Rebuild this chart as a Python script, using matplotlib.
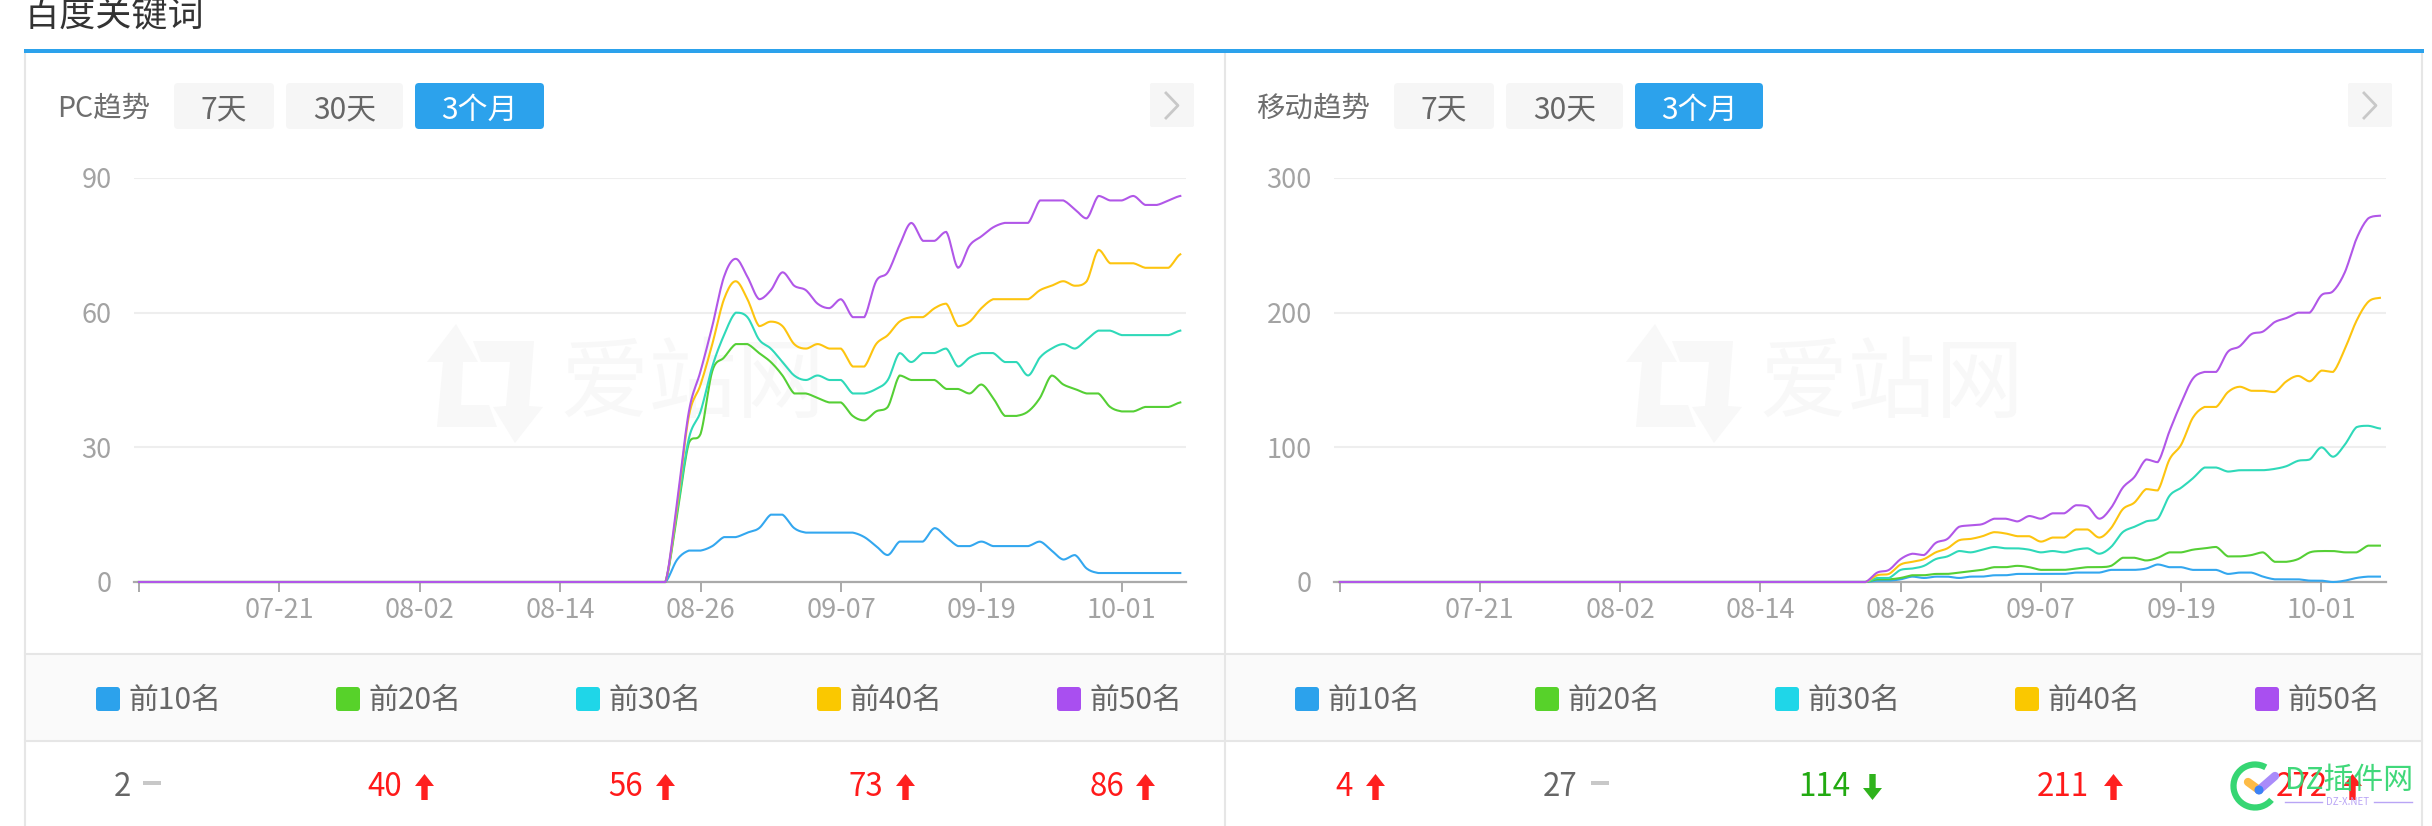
import numpy as np
import matplotlib
matplotlib.use("Agg")
import matplotlib.pyplot as plt
from matplotlib.patches import FancyBboxPatch, Polygon, Rectangle, Arc, Circle

plt.rcParams['font.family'] = ['Noto Sans CJK SC', 'DejaVu Sans']

W, H = 2432, 826

# ---------- data ----------
tick_days = [0, 12, 24, 36, 48, 60, 72, 84]
tick_labels = ["", "07-21", "08-02", "08-14", "08-26", "09-07", "09-19", "10-01"]
series_names = ["前10名", "前20名", "前30名", "前40名", "前50名"]
quiet_days = [0] * 46  # flat zero up to 08-23

pc_top10 = quiet_days + [5, 7, 7, 8, 10, 10, 11, 12, 15, 15, 12, 11, 11, 11, 11, 11, 10, 8, 6, 9, 9, 9,
                         12, 10, 8, 8, 9, 8, 8, 8, 8, 9, 7, 5, 6, 3, 2, 2, 2, 2, 2, 2, 2, 2]
pc_top20 = quiet_days + [15, 31, 33, 47, 50, 53, 53, 51, 49, 46, 42, 42, 41, 40, 40, 37, 36, 38, 39, 46, 45, 45,
                         45, 43, 43, 42, 44, 41, 37, 37, 38, 41, 46, 44, 43, 42, 42, 39, 38, 38, 39, 39, 39, 40]
pc_top30 = quiet_days + [16, 32, 38, 48, 55, 60, 59, 54, 52, 49, 46, 45, 46, 45, 45, 42, 42, 43, 45, 51, 49, 51,
                         51, 52, 48, 50, 51, 51, 49, 49, 46, 50, 52, 53, 52, 54, 56, 56, 55, 55, 55, 55, 55, 56]
pc_top40 = quiet_days + [17, 37, 44, 53, 63, 67, 63, 57, 58, 57, 53, 52, 53, 52, 52, 48, 48, 53, 55, 58, 59, 59,
                         61, 62, 57, 58, 61, 63, 63, 63, 63, 65, 66, 67, 66, 67, 74, 71, 71, 71, 70, 70, 70, 73]
pc_top50 = quiet_days + [18, 38, 47, 57, 68, 72, 68, 63, 65, 69, 66, 65, 62, 61, 63, 59, 59, 67, 69, 75, 80, 76,
                         76, 78, 70, 75, 77, 79, 80, 80, 80, 85, 85, 85, 83, 81, 86, 85, 85, 86, 84, 84, 85, 86]

mob_top10 = quiet_days + [1, 1, 2, 4, 3, 4, 4, 3, 4, 4, 5, 5, 6, 6, 6, 6, 6, 7, 7, 7, 9, 9,
                          9, 10, 13, 11, 11, 9, 9, 9, 6, 7, 7, 4, 2, 2, 2, 1, 1, 0, 1, 3, 4, 4]
mob_top20 = quiet_days + [2, 2, 3, 5, 5, 6, 6, 7, 8, 9, 11, 11, 12, 11, 9, 9, 9, 10, 11, 11, 12, 18,
                          18, 16, 18, 22, 22, 24, 25, 26, 19, 19, 20, 22, 15, 15, 17, 22, 23, 23, 22, 22, 27, 27]
mob_top30 = quiet_days + [3, 3, 9, 10, 12, 17, 19, 23, 22, 24, 26, 25, 25, 24, 22, 23, 22, 24, 25, 21, 26, 37,
                          41, 45, 47, 64, 70, 77, 85, 85, 82, 83, 83, 83, 84, 86, 90, 91, 100, 93, 102, 115, 116, 114]
mob_top40 = quiet_days + [5, 6, 13, 15, 17, 22, 25, 31, 32, 34, 37, 36, 34, 34, 30, 33, 33, 39, 39, 33, 40, 54,
                          59, 69, 68, 91, 102, 122, 130, 130, 141, 145, 142, 142, 141, 149, 153, 149, 157, 156, 173, 194, 208, 211]
mob_top50 = quiet_days + [7, 9, 17, 21, 20, 29, 32, 41, 42, 43, 47, 47, 45, 49, 47, 51, 51, 57, 56, 47, 55, 70,
                          78, 91, 89, 112, 133, 151, 156, 156, 171, 175, 184, 186, 193, 196, 200, 200, 213, 216, 230, 255, 270, 272]

pc_series = [pc_top10, pc_top20, pc_top30, pc_top40, pc_top50]
mob_series = [mob_top10, mob_top20, mob_top30, mob_top40, mob_top50]
pc_yticks = [0, 30, 60, 90]
mob_yticks = [0, 100, 200, 300]
pc_latest = ["2", "40", "56", "73", "86"]
pc_trend = ["flat", "up", "up", "up", "up"]
mob_latest = ["4", "27", "114", "211", "272"]
mob_trend = ["up", "flat", "down", "up", "up"]

line_colors = ["#33a7ef", "#55cf35", "#2fd9b9", "#fdc40f", "#b157e8"]
swatch_colors = ["#2ca2ec", "#57d22a", "#1fd6e8", "#fac800", "#a94ff0"]
GRAY_TEXT = "#666666"
AXIS_TEXT = "#a3a3a3"
BLUE = "#2ca2ec"
BORDER = "#e6e6e6"
PANEL_RIGHT = 2422

fig = plt.figure(figsize=(W / 100, H / 100), dpi=100, facecolor="white")

# ---------- page furniture, in pixel coordinates ----------
bg = fig.add_axes([0, 0, 1, 1], zorder=0)
bg.set_xlim(0, W)
bg.set_ylim(H, 0)
bg.axis("off")


def rbox(x0, y0, x1, y1, color, r=4, z=1):
    bg.add_patch(FancyBboxPatch((x0, y0), x1 - x0, y1 - y0,
                                boxstyle=f"round,pad=0,rounding_size={r}",
                                fc=color, ec="none", zorder=z))


def label(x, y, s, size, color=GRAY_TEXT, ha="left", va="center", z=5, **kw):
    bg.text(x, y, s, fontsize=size, color=color, ha=ha, va=va, zorder=z, **kw)


def arrow(x0, x1, y0, y1, color, up=True):
    xc = (x0 + x1) / 2
    head = 12
    sw = 3.2
    if up:
        pts = [(xc, y0), (x1, y0 + head), (xc + sw, y0 + head), (xc + sw, y1),
               (xc - sw, y1), (xc - sw, y0 + head), (x0, y0 + head)]
    else:
        pts = [(xc, y1), (x1, y1 - head), (xc + sw, y1 - head), (xc + sw, y0),
               (xc - sw, y0), (xc - sw, y1 - head), (x0, y1 - head)]
    bg.add_patch(Polygon(pts, closed=True, fc=color, ec="none", zorder=5))


def watermark(dx):
    c = "#f8f8f8"
    bg.add_patch(Polygon([(456 + dx, 324), (478 + dx, 362), (463 + dx, 362), (461 + dx, 405),
                          (489 + dx, 405), (497 + dx, 427), (437 + dx, 427), (443 + dx, 362),
                          (427 + dx, 362)], closed=True, fc=c, ec="none", zorder=1))
    bg.add_patch(Polygon([(473 + dx, 341), (534 + dx, 341), (529 + dx, 406), (543 + dx, 407),
                          (515 + dx, 443), (493 + dx, 407), (506 + dx, 406), (510 + dx, 362),
                          (481 + dx, 362)], closed=True, fc=c, ec="none", zorder=1))
    label(693 + dx, 386, "爱站网", 63.5, color=c, ha="center", z=1)


# title, clipped by the page top
label(24, 16, "百度关键词", 26, color="#333333")

# panel frame
bg.add_patch(Rectangle((25, 654), PANEL_RIGHT - 25, 87, fc="#fafafa", ec="none", zorder=0.5))
for yy in (654, 740.5):
    bg.plot([25, PANEL_RIGHT], [yy, yy], color=BORDER, lw=1.5, zorder=0.6)
for xx in (25, 1224.6, PANEL_RIGHT):
    bg.plot([xx, xx], [52, 826], color=BORDER, lw=1.5, zorder=0.6)
bg.add_patch(Rectangle((24, 49), 2400, 4, fc=BLUE, ec="none", zorder=2))

# headers and range buttons
headers = [
    ("PC趋势", 57, [(174, 274), (286, 403), (415, 544)], (1150, 1194)),
    ("移动趋势", 1255.6, [(1394, 1494), (1506, 1623), (1635, 1763)], (2348, 2392)),
]
button_labels = ["7天", "30天", "3个月"]
for name, hx, btns, nav in headers:
    label(hx, 109, name, 20.5, color="#6e6e6e")
    for i, ((b0, b1), txt) in enumerate(zip(btns, button_labels)):
        active = i == 2
        rbox(b0, 83, b1, 129, BLUE if active else "#f6f6f6")
        label((b0 + b1) / 2, 110, txt, 21.5, color="white" if active else GRAY_TEXT, ha="center")
    rbox(nav[0], 83, nav[1], 127, "#f6f6f6", r=2)
    cx = (nav[0] + nav[1]) / 2
    bg.plot([cx - 6, cx + 6, cx - 6], [93, 105.5, 118], color="#c8c8c8", lw=2, zorder=3)

watermark(0)
watermark(1199)

# legend strip and latest values
swatch_x = [[96, 336, 576, 817, 1057], [1295, 1535, 1775, 2015, 2255]]
value_right = [[131, 402, 643, 883, 1124], [1353, 1578, 1850, 2089, 2328]]
mark_x = [[143, 415, 656, 896, 1136], [1366, 1591, 1863, 2104, 2343]]
for p, (vals, trends) in enumerate([(pc_latest, pc_trend), (mob_latest, mob_trend)]):
    for k in range(5):
        sx = swatch_x[p][k]
        rbox(sx, 687, sx + 24, 711, swatch_colors[k], r=3)
        label(sx + 32, 700, series_names[k], 21.5)
        t = trends[k]
        col = {"up": "#ff1a1a", "down": "#22aa11", "flat": GRAY_TEXT}[t]
        label(value_right[p][k], 787, vals[k], 22.5, color=col, ha="right")
        mx = mark_x[p][k]
        if t == "flat":
            bg.add_patch(Rectangle((mx, 781), 18, 4, fc="#c8c8c8", ec="none", zorder=5))
        else:
            arrow(mx, mx + 19, 774, 800, "#ff2020" if t == "up" else "#2fb31c", up=t == "up")

# site stamp over the last value
stamp = "#36d673"
bg.add_patch(Arc((2255, 786), 43, 43, theta1=40, theta2=300, ec=stamp, lw=4.5, zorder=6))
bg.plot([2248, 2259], [782, 790], color="#fdbb46", lw=6, solid_capstyle="round", zorder=6)
bg.plot([2259, 2275], [790, 776], color="#a98bfa", lw=6, solid_capstyle="round", zorder=6)
bg.add_patch(Circle((2259, 790), 4.5, fc="#3b82f6", ec="none", zorder=7))
label(2285, 780, "DZ插件网", 21.5, color=stamp, z=7, alpha=0.95)
bg.plot([2285, 2322], [802, 802], color="#b9a5f5", lw=1, zorder=6)
bg.plot([2374, 2412], [802, 802], color="#b9a5f5", lw=1, zorder=6)
label(2348, 802, "DZ-X.NET", 7, color="#b9a5f5", ha="center", z=6)


# ---------- charts ----------
def smooth(days, values, per_seg=10):
    """Bezier through the read points, control points kept within each segment's range."""
    x = np.asarray(days, float)
    y = np.asarray(values, float)
    n = len(x)
    xs, ys = [], []
    t = np.linspace(0, 1, per_seg, endpoint=False)[:, None]
    for i in range(n - 1):
        a = max(i - 1, 0)
        b = min(i + 2, n - 1)
        lo, hi = min(y[i], y[i + 1]), max(y[i], y[i + 1])
        c1 = np.array([x[i] + 1 / 3, np.clip(y[i] + (y[i + 1] - y[a]) / 6, lo, hi)])
        c2 = np.array([x[i + 1] - 1 / 3, np.clip(y[i + 1] - (y[b] - y[i]) / 6, lo, hi)])
        p0 = np.array([x[i], y[i]])
        p3 = np.array([x[i + 1], y[i + 1]])
        pts = (1 - t) ** 3 * p0 + 3 * (1 - t) ** 2 * t * c1 + 3 * (1 - t) * t ** 2 * c2 + t ** 3 * p3
        xs.append(pts[:, 0])
        ys.append(pts[:, 1])
    xs.append(x[-1:])
    ys.append(y[-1:])
    return np.concatenate(xs), np.concatenate(ys)


def chart(left, right, first_day_px, px_per_day, series, yticks):
    ax = fig.add_axes([left / W, 1 - 582 / H, (right - left) / W, (582 - 178) / H], zorder=2)
    ax.patch.set_alpha(0)
    ax.set_xlim((left - first_day_px) / px_per_day, (right - first_day_px) / px_per_day)
    ax.set_ylim(yticks[0], yticks[-1])
    for side in ("top", "right", "left"):
        ax.spines[side].set_visible(False)
    ax.spines["bottom"].set_color("#aaaaaa")
    ax.spines["bottom"].set_linewidth(1.6)
    ax.set_yticks(yticks)
    ax.set_xticks(tick_days)
    ax.set_xticklabels(tick_labels)
    ax.tick_params(axis="x", length=7, width=1.4, color="#aaaaaa", labelcolor=AXIS_TEXT,
                   labelsize=19.5, pad=4)
    ax.tick_params(axis="y", length=0, labelcolor=AXIS_TEXT, labelsize=19.5, pad=16)
    ax.yaxis.grid(True, color="#eeeeee", lw=1.5)
    ax.set_axisbelow(True)
    days = np.arange(len(series[0]))
    for vals, col in zip(series, line_colors):
        sx, sy = smooth(days, vals)
        ax.plot(sx, sy, color=col, lw=1.5, clip_on=False, solid_joinstyle="round", zorder=3)
    return ax


chart(134, 1186, 139, 11.7, pc_series, pc_yticks)
chart(1334, 2385.6, 1339.5, 11.69, mob_series, mob_yticks)

fig.savefig("out.png", dpi=100, facecolor="white")
